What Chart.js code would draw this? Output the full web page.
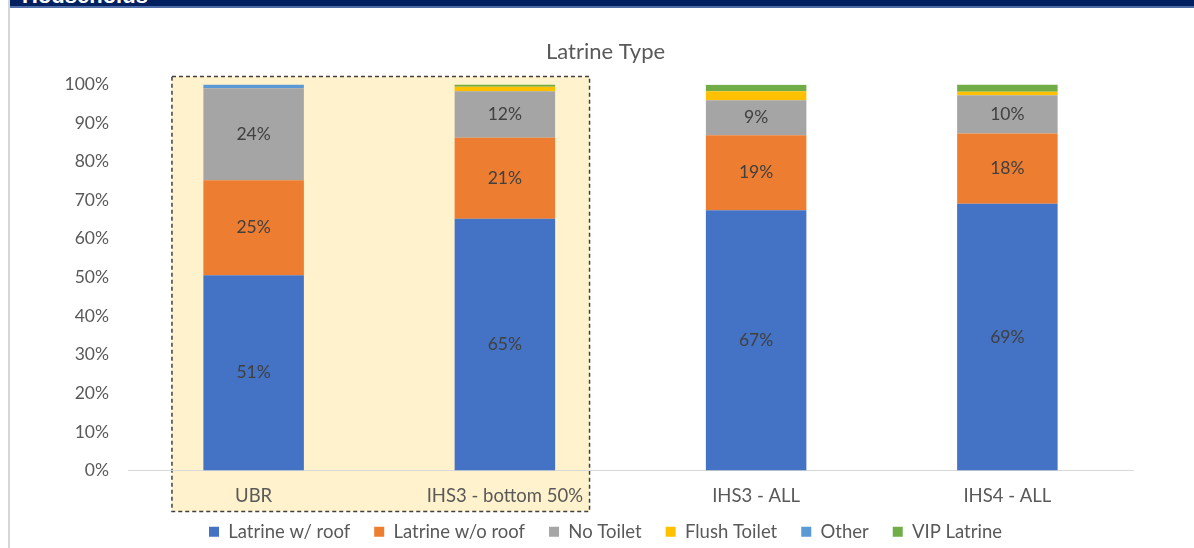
<!DOCTYPE html>
<html>
<head>
<meta charset="utf-8">
<script src="https://cdn.jsdelivr.net/npm/chart.js@4.4.0/dist/chart.umd.min.js"></script>
<style>
  html, body { margin: 0; padding: 0; background: #ffffff; width: 1194px; height: 548px; overflow: hidden; }
  #header { position: absolute; left: 10px; top: 0; width: 1184px; height: 6px; background: #002060; overflow: hidden; border-bottom: 2px solid #4f6ea8; }
  #header span { position: absolute; left: 12px; top: -17px; color: #ffffff; font: bold 22px "Liberation Sans", Arial, sans-serif; }
  #leftline { position: absolute; left: 8px; top: 0; width: 2px; height: 548px; background: #d6d6d6; }
  #wrap { position: absolute; left: 0; top: 0; width: 1194px; height: 548px; }
</style>
</head>
<body>
<div id="wrap"><canvas id="c" width="1194" height="548"></canvas></div>
<div id="leftline"></div>
<div id="header"><span>Households</span></div>
<script>
const categories = ["UBR", "IHS3 - bottom 50%", "IHS3 - ALL", "IHS4 - ALL"];
const latrineWithRoof    = [50.6, 65.2, 67.4, 69.1];
const latrineWithoutRoof = [24.6, 21.0, 19.4, 18.2];
const noToilet           = [23.8, 12.0, 9.1, 9.9];
const flushToilet        = [0.0, 1.2, 2.3, 0.9];
const other              = [1.0, 0.0, 0.0, 0.0];
const vipLatrine         = [0.0, 0.6, 1.7, 1.9];
const yTickValues        = [0, 10, 20, 30, 40, 50, 60, 70, 80, 90, 100];
const highlightedCategories = [0, 1];

const FONT = "Lato, 'Open Sans', sans-serif";
const TEXT = "#595959";

const highlightPlugin = {
  id: "highlight",
  beforeDraw(chart) {
    const x = chart.scales.x, y = chart.scales.y;
    const cw = (x.right - x.left) / categories.length;
    const left = x.getPixelForValue(highlightedCategories[0]) - 0.325 * cw;
    const right = x.getPixelForValue(highlightedCategories[highlightedCategories.length - 1]) + 0.337 * cw;
    const top = y.getPixelForValue(100) - 8;
    const bottom = y.getPixelForValue(0) + 41;
    const ctx = chart.ctx;
    ctx.save();
    ctx.fillStyle = "#FFF2CC";
    ctx.fillRect(left, top, right - left, bottom - top);
    ctx.setLineDash([4, 3]);
    ctx.lineWidth = 1.5;
    ctx.strokeStyle = "#404040";
    ctx.strokeRect(left, top, right - left, bottom - top);
    ctx.restore();
  }
};

// centre title and legend on the whole frame and pull legend up a little
const shiftPlugin = {
  id: "shiftBoxes",
  afterLayout(chart) {
    const shift = 39;
    [chart.legend, chart.titleBlock].forEach(b => {
      if (b) { b.left += shift; b.right += shift; }
    });
    if (chart.legend) { chart.legend.top -= 12; chart.legend.bottom -= 12; }
  }
};

const labelPlugin = {
  id: "segLabels",
  afterDatasetsDraw(chart) {
    const ctx = chart.ctx;
    ctx.save();
    ctx.font = "17.5px " + FONT;
    ctx.fillStyle = "#404040";
    ctx.textAlign = "center";
    ctx.textBaseline = "middle";
    [0, 1, 2].forEach(di => {
      const meta = chart.getDatasetMeta(di);
      meta.data.forEach((el, i) => {
        const v = chart.data.datasets[di].data[i];
        ctx.fillText(Math.round(v) + "%", el.x, (el.y + el.base) / 2);
      });
    });
    ctx.restore();
  }
};

new Chart(document.getElementById("c"), {
  type: "bar",
  data: {
    labels: categories,
    datasets: [
      { label: "Latrine w/ roof", data: latrineWithRoof, backgroundColor: "#4472C4" },
      { label: "Latrine w/o roof", data: latrineWithoutRoof, backgroundColor: "#ED7D31" },
      { label: "No Toilet", data: noToilet, backgroundColor: "#A5A5A5" },
      { label: "Flush Toilet", data: flushToilet, backgroundColor: "#FFC000" },
      { label: "Other", data: other, backgroundColor: "#5B9BD5" },
      { label: "VIP Latrine", data: vipLatrine, backgroundColor: "#70AD47" }
    ]
  },
  options: {
    responsive: false,
    animation: false,
    layout: { padding: { left: 0, right: 61, top: 0, bottom: -15 } },
    datasets: { bar: { categoryPercentage: 1.0, barPercentage: 0.4 } },
    scales: {
      x: {
        stacked: true,
        afterFit(scale) { scale.height = 40; },
        grid: { display: false },
        border: { display: true, color: "#d9d9d9", width: 1 },
        ticks: { color: TEXT, font: { family: FONT, size: 18.5 }, padding: 6 }
      },
      y: {
        stacked: true,
        min: 0, max: 100,
        afterBuildTicks(scale) { scale.ticks = yTickValues.map(v => ({ value: v })); },
        afterFit(scale) { scale.width = 128; },
        grid: { display: false },
        border: { display: false },
        ticks: { color: TEXT, font: { family: FONT, size: 17.5 }, padding: 11, callback: v => v + "%" }
      }
    },
    plugins: {
      title: {
        display: true, text: "Latrine Type", color: TEXT,
        font: { family: FONT, size: 22, weight: "normal" },
        padding: { top: 39, bottom: 19 }
      },
      legend: {
        position: "bottom",
        labels: { color: TEXT, font: { family: FONT, size: 18.5 }, boxWidth: 10, boxHeight: 10, padding: 24 }
      },
      tooltip: { enabled: false }
    }
  },
  plugins: [shiftPlugin, highlightPlugin, labelPlugin]
});
</script>
</body>
</html>
